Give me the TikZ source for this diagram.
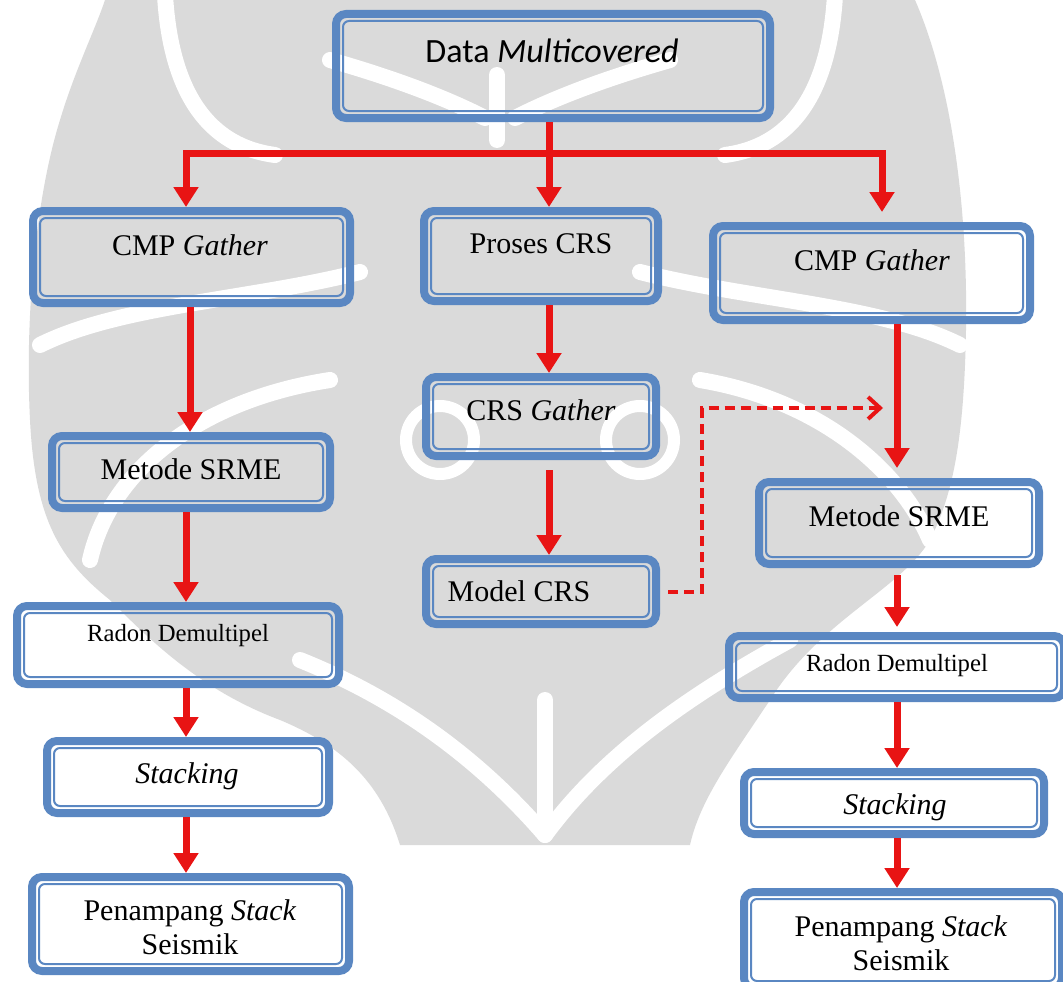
\documentclass[tikz,border=0pt]{standalone}
\usepackage{fontspec}
\setmainfont{Liberation Serif}
\newfontfamily\calib{Carlito}
\usetikzlibrary{arrows.meta,calc}
\definecolor{boxblue}{HTML}{5A87C2}
\definecolor{flowred}{HTML}{E81414}
\definecolor{wmgray}{HTML}{DADADA}
\tikzset{
  pbox/.style={draw=boxblue, line width=8pt, rounded corners=10pt,
    inner sep=0pt, outer sep=4pt},
  innerline/.style={draw=boxblue, line width=2pt, rounded corners=6pt},
  lbl/.style={font=\fontsize{30}{34}\selectfont, align=center, inner sep=0pt, anchor=base},
  smalllbl/.style={lbl, font=\fontsize{24.7}{28}\selectfont},
  flow/.style={draw=flowred, line width=7pt, line join=miter,
    -{Triangle[length=20pt,width=24pt]}},
  dashflow/.style={draw=flowred, line width=4pt, dash pattern=on 10pt off 6pt,
    -{Straight Barb[length=12pt,width=22pt]}},
  wmband/.style={draw=white, line width=16pt, line cap=round},
}
\begin{document}
\begin{tikzpicture}[x=1pt, y=-1pt]
  \useasboundingbox (0,0) rectangle (1063,982);
  \clip (0,0) rectangle (1063,982);

  % faint emblem in the background
  \fill[wmgray] (105,0) -- (915,0)
    .. controls (950,80) and (968,200) .. (966,330)
    .. controls (964,450) and (950,500) .. (930,540)
    .. controls (900,590) and (820,620) .. (770,700)
    .. controls (730,760) and (700,800) .. (690,845)
    -- (400,845)
    .. controls (380,780) and (340,745) .. (280,720)
    .. controls (200,690) and (150,640) .. (110,600)
    .. controls (60,560) and (35,520) .. (30,420)
    .. controls (25,320) and (35,200) .. (60,120)
    .. controls (75,70) and (95,30) .. (105,0) -- cycle;
  % crown
  \draw[wmband] (165,-5) .. controls (170,80) and (200,145) .. (275,155);
  \draw[wmband] (835,-5) .. controls (830,80) and (800,145) .. (725,155);
  \draw[wmband] (497,75) -- (497,140);
  \draw[wmband] (330,60) .. controls (400,80) and (450,100) .. (485,118);
  \draw[wmband] (670,60) .. controls (600,80) and (550,100) .. (515,118);
  % wings
  \draw[wmband] (40,345) .. controls (120,305) and (250,300) .. (360,272);
  \draw[wmband] (960,345) .. controls (880,305) and (750,300) .. (640,272);
  \draw[wmband] (90,560) .. controls (110,470) and (200,400) .. (330,380);
  \draw[wmband] (930,540) .. controls (900,470) and (820,400) .. (700,380);
  % eyes
  \draw[wmband, line width=12pt] (440,440) circle[radius=34];
  \draw[wmband, line width=12pt] (640,440) circle[radius=34];
  % lower petals
  \draw[wmband] (545,835) .. controls (480,760) and (400,700) .. (300,660);
  \draw[wmband] (545,835) .. controls (600,760) and (680,700) .. (790,640);
  \draw[wmband] (545,830) -- (545,700);

  % boxes (outer border line, inner line added below)
  \node[pbox, minimum width=434, minimum height=104] (top) at (553,66) {};
  \node[pbox, minimum width=317, minimum height=92] (L1) at (191.5,257) {};
  \node[pbox, minimum width=278, minimum height=72] (L2) at (191,472) {};
  \node[pbox, minimum width=322, minimum height=78] (L3) at (178,645) {};
  \node[pbox, minimum width=282, minimum height=72] (L4) at (188,777) {};
  \node[pbox, minimum width=317, minimum height=94] (L5) at (190.5,924) {};
  \node[pbox, minimum width=234, minimum height=90] (M1) at (541,256) {};
  \node[pbox, minimum width=230, minimum height=79] (M2) at (541,416.5) {};
  \node[pbox, minimum width=230, minimum height=65] (M3) at (541,591.5) {};
  \node[pbox, minimum width=317, minimum height=94] (R1) at (871.5,273) {};
  \node[pbox, minimum width=280, minimum height=82] (R2) at (899,523) {};
  \node[pbox, minimum width=335, minimum height=62] (R3) at (896.5,667) {};
  \node[pbox, minimum width=300, minimum height=62] (R4) at (894,803) {};
  \node[pbox, minimum width=318, minimum height=96] (R5) at (903,940) {};

  \foreach \n in {top,L1,L2,L3,L4,L5,M1,M2,M3,R1,R2,R3,R4,R5}
    \draw[innerline] ($(\n.north west)+(11,11)$) rectangle ($(\n.south east)+(-11,-11)$);

  % labels
  \node[lbl, font=\calib\fontsize{34}{40}\selectfont] (tTop) at (552,63) {Data \textit{Multicovered}};
  \node[lbl] (tL1) at (190,255) {CMP \textit{Gather}};
  \node[lbl] (tL2) at (191,479) {Metode SRME};
  \node[smalllbl] (tL3) at (178,641) {Radon Demultipel};
  \node[lbl] (tL4) at (187,783) {\textit{Stacking}};
  \node[lbl] (tL5) at (190,954) {Penampang \textit{Stack}\\Seismik};
  \node[lbl] (tM1) at (541,253) {Proses CRS};
  \node[lbl] (tM2) at (541,420) {CRS \textit{Gather}};
  \node[lbl] (tM3) at (519,601) {Model CRS};
  \node[lbl] (tR1) at (872,270) {CMP \textit{Gather}};
  \node[lbl] (tR2) at (899,526) {Metode SRME};
  \node[smalllbl] (tR3) at (897,671) {Radon Demultipel};
  \node[lbl] (tR4) at (895,814) {\textit{Stacking}};
  \node[lbl] (tR5) at (901,970) {Penampang \textit{Stack}\\Seismik};

  % connectors
  \coordinate (bl) at (186,153);
  \coordinate (bm) at (549,153);
  \coordinate (br) at (882,153);
  \coordinate (xl1) at (190,0);
  \coordinate (xl) at (186,0);
  \coordinate (xm) at (549,0);
  \coordinate (xr) at (897,0);

  \draw[flow] (bm) -- (bl) -- (bl |- L1.north);
  \draw[flow] (bm) -- (br) -- ($(br |- R1.north)+(0,-10)$);
  \draw[flow] (top.south -| xm) -- (M1.north -| xm);

  \draw[flow] (L1.south -| xl1) -- (L2.north -| xl1);
  \draw[flow] (L2.south -| xl) -- (L3.north -| xl);
  \draw[flow] (L3.south -| xl) -- (L4.north -| xl);
  \draw[flow] (L4.south -| xl) -- (L5.north -| xl);

  \draw[flow] (M1.south -| xm) -- (M2.north -| xm);
  \draw[flow] ($(M2.south -| xm)+(0,10)$) -- (M3.north -| xm);

  \draw[flow] (R1.south -| xr) -- ($(R2.north -| xr)+(0,-10)$);
  \draw[flow] ($(R2.south -| xr)+(0,7)$) -- ($(R3.north -| xr)+(0,-5)$);
  \draw[flow] (R3.south -| xr) -- (R4.north -| xr);
  \draw[flow] (R4.south -| xr) -- (R5.north -| xr);

  \coordinate (d0) at ($(M3.east)+(8,0)$);
  \coordinate (d1) at (702,591.5);
  \coordinate (d2) at (883,408);
  \draw[dashflow] (d0) -- (d1) |- (d2);
\end{tikzpicture}
\end{document}
